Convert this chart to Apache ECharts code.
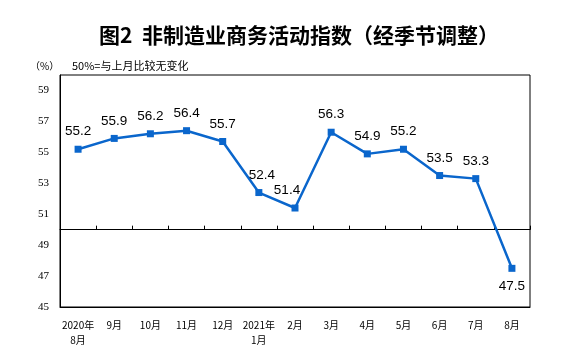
<!DOCTYPE html>
<html>
<head>
<meta charset="utf-8">
<script src="https://cdn.jsdelivr.net/npm/echarts@6/dist/echarts.min.js"></script>
<style>html,body{margin:0;padding:0;background:#fff;}#c{width:561px;height:355px;}</style>
</head>
<body>
<div id="c"></div>
<script>
var categories = ["2020年\n8月","9月","10月","11月","12月","2021年\n1月","2月","3月","4月","5月","6月","7月","8月"];
var values = [55.2, 55.9, 56.2, 56.4, 55.7, 52.4, 51.4, 56.3, 54.9, 55.2, 53.5, 53.3, 47.5];
var yTickLabels = [45, 47, 49, 51, 53, 55, 57, 59];
var titleText = "图2  非制造业商务活动指数（经季节调整）";
var unitText = "（%）";
var noteText = "50%=与上月比较无变化";

var chart = echarts.init(document.getElementById('c'), null, {renderer: 'canvas'});
var gridTop = 75, gridBottom = 48, H = 355;
var gridH = H - gridTop - gridBottom;
var yMin = 45, yMax = 60, base = 50;

var seriesData = values.map(function (v, i) {
  var d = {value: v};
  if (i === values.length - 1) {
    d.label = {position: 'bottom', distance: 7};
  } else if (i === 6) {
    d.label = {offset: [-8, 0]};
  } else if (i === 5) {
    d.label = {offset: [3, 0]};
  }
  return d;
});

chart.setOption({
  backgroundColor: '#fff',
  animation: false,
  title: {
    text: titleText,
    left: 94, top: 20,
    textStyle: {fontSize: 21, fontWeight: 'bold', color: '#000', fontFamily: 'Noto Sans CJK SC'}
  },
  graphic: [
    {type: 'text', left: 30, top: 61, style: {text: unitText, fontSize: 10, fill: '#000', fontFamily: 'Noto Sans CJK SC'}},
    {type: 'text', left: 72, top: 60, style: {text: noteText, fontSize: 11, fill: '#000', fontFamily: 'Noto Sans CJK SC'}}
  ],
  grid: {left: 60, right: 31, top: gridTop, bottom: gridBottom, show: true, borderColor: '#000', borderWidth: 1, backgroundColor: 'transparent'},
  xAxis: [
    {
      type: 'category', data: categories, position: 'bottom', boundaryGap: true,
      axisLine: {show: true, lineStyle: {color: '#000', width: 1}},
      axisTick: {show: false},
      axisLabel: {interval: 0, fontSize: 10, lineHeight: 15, margin: 11, color: '#000', fontFamily: 'Noto Sans CJK SC'}
    },
    {
      type: 'category', data: categories, position: 'bottom', boundaryGap: true,
      offset: -gridH * (base - yMin) / (yMax - yMin),
      axisLine: {show: true, lineStyle: {color: '#000', width: 1}},
      axisTick: {show: true, inside: true, length: 4, interval: 0, lineStyle: {color: '#000'}},
      axisLabel: {show: false}
    }
  ],
  yAxis: {
    type: 'value', min: yMin, max: yMax, interval: 1,
    axisLine: {show: true, lineStyle: {color: '#000'}},
    axisTick: {show: false},
    splitLine: {show: false},
    axisLabel: {
      margin: 11, fontSize: 11, color: '#000', fontFamily: 'Liberation Serif',
      formatter: function (v) { return yTickLabels.indexOf(v) >= 0 ? String(v) : ''; }
    }
  },
  series: [{
    type: 'line', xAxisIndex: 0, data: seriesData,
    symbol: 'rect', symbolSize: 7, showAllSymbol: true,
    lineStyle: {color: '#0a66cc', width: 2.5},
    itemStyle: {color: '#0a66cc'},
    label: {show: true, position: 'top', distance: 7, fontSize: 13.5, color: '#000', fontFamily: 'Liberation Sans',
      formatter: function (p) { return p.value.toFixed(1); }}
  }]
});
</script>
</body>
</html>
